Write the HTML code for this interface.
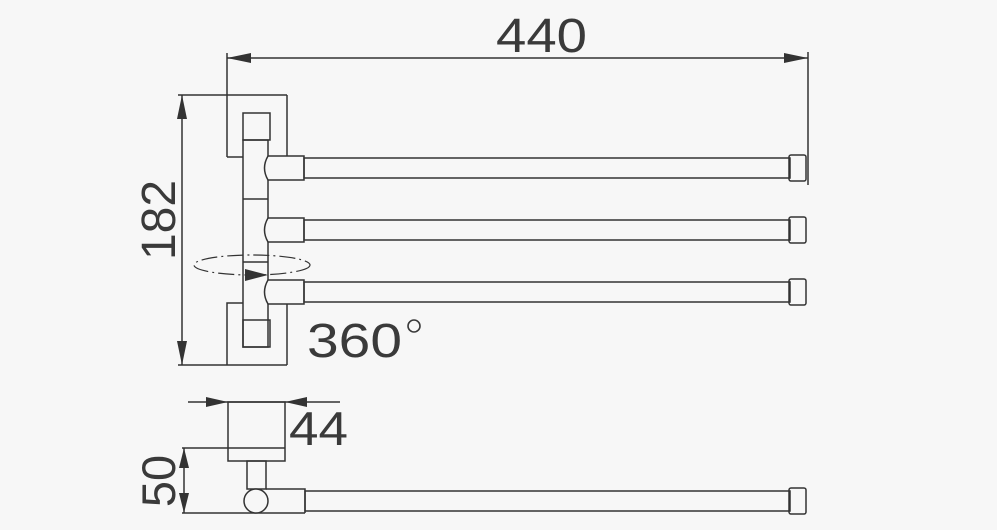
<!DOCTYPE html>
<html><head><style>
html,body{margin:0;padding:0;background:#f7f7f7;}
svg{display:block;}
text{font-family:"Liberation Sans",sans-serif;fill:#3a3a3a;}
</style></head><body>
<svg width="997" height="530" viewBox="0 0 997 530" xmlns="http://www.w3.org/2000/svg">
<g stroke="#333" stroke-width="1.5" fill="none">
<line x1="227" y1="58" x2="808" y2="58"/>
<line x1="227" y1="53" x2="227" y2="157"/>
<line x1="808" y1="52" x2="808" y2="185"/>
<line x1="182" y1="95" x2="182" y2="365"/>
<line x1="178" y1="95" x2="287" y2="95"/>
<line x1="178" y1="365" x2="287" y2="365"/>
<polyline points="227,157 243,157"/>
<line x1="287" y1="95" x2="287" y2="157"/>
<line x1="270" y1="157" x2="287" y2="157"/>
<rect x="243" y="113" width="27" height="27"/>
<rect x="243" y="140" width="25" height="207"/>
<line x1="243" y1="199" x2="268" y2="199"/>
<line x1="243" y1="262" x2="268" y2="262"/>
<polyline points="243,303 227,303 227,365"/>
<polyline points="268,303 287,303 287,365"/>
<rect x="243" y="320" width="27" height="27"/>
<g id="arm">
<path d="M304,156 L268,156 Q261,168 268,180 L304,180 Z" fill="#f7f7f7"/>
<rect x="304" y="158" width="486" height="20"/>
<rect x="789" y="155" width="17" height="26" rx="2"/>
</g>
<use href="#arm" transform="translate(0,62)"/>
<use href="#arm" transform="translate(0,124)"/>
<ellipse cx="252" cy="265" rx="58" ry="10" stroke-dasharray="16,4,2,4" stroke-width="1.2"/>
<line x1="188" y1="402" x2="340" y2="402"/>
<rect x="228" y="402" width="57" height="59"/>
<line x1="182" y1="448" x2="285" y2="448"/>
<line x1="182" y1="513" x2="305" y2="513"/>
<line x1="184" y1="448" x2="184" y2="513"/>
<rect x="247" y="461" width="19" height="28"/>
<circle cx="256" cy="501" r="12" fill="#f7f7f7"/>
<polyline points="266,489 305,489 305,513"/>
<rect x="305" y="491" width="485" height="20"/>
<rect x="789" y="488" width="17" height="26" rx="2"/>
<circle cx="414" cy="326" r="6" stroke="#3a3a3a" stroke-width="1.6"/>
</g>
<g fill="#333">
<polygon points="227,58 251,53 251,63"/>
<polygon points="808,58 784,53 784,63"/>
<polygon points="182,95 177,119 187,119"/>
<polygon points="182,365 177,341 187,341"/>
<polygon points="268,275 245,269 245,281"/>
<polygon points="228,402 206,397 206,407"/>
<polygon points="285,402 307,397 307,407"/>
<polygon points="184,448 179,468 189,468"/>
<polygon points="184,513 179,493 189,493"/>
</g>
<text x="496" y="52" font-size="48" textLength="91" lengthAdjust="spacingAndGlyphs">440</text>
<text transform="translate(175,220) rotate(-90)" font-size="48" text-anchor="middle">182</text>
<text x="307" y="357" font-size="48" textLength="95" lengthAdjust="spacingAndGlyphs">360</text>
<text x="289" y="445" font-size="47" textLength="59" lengthAdjust="spacingAndGlyphs">44</text>
<text transform="translate(175,481) rotate(-90)" font-size="47" text-anchor="middle">50</text>
</svg>
</body></html>
